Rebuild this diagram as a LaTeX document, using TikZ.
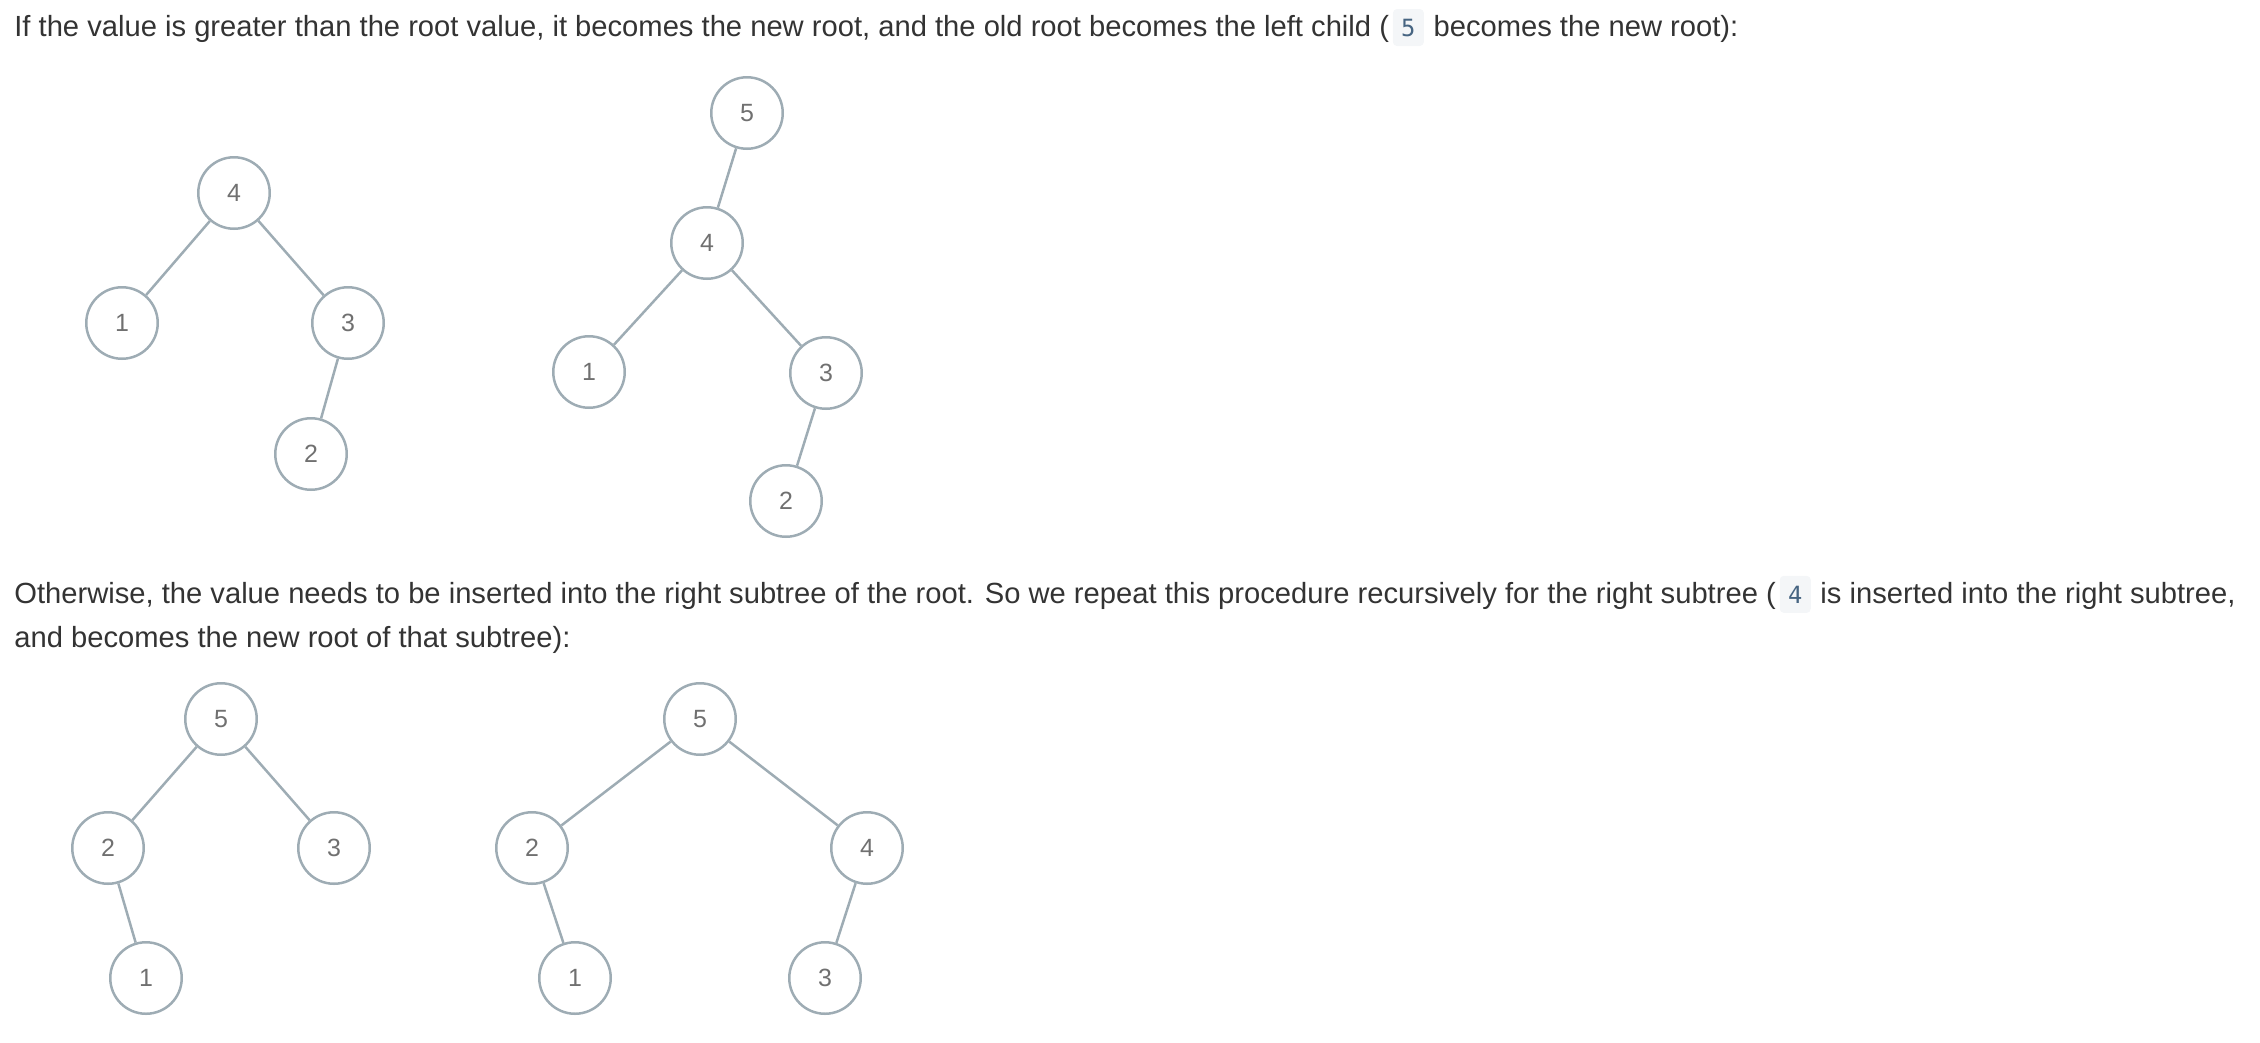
\documentclass[tikz,border=0pt]{standalone}
\usepackage{fontspec}
\setmainfont{Liberation Sans}
\newfontfamily\codefont{DejaVu Sans Mono}
\usetikzlibrary{positioning}
\definecolor{edgegray}{HTML}{9EACB4}
\definecolor{textgray}{HTML}{333333}
\definecolor{digitgray}{HTML}{707070}
\definecolor{codebg}{HTML}{F4F6F8}
\definecolor{codefg}{HTML}{476582}

\begin{document}
\begin{tikzpicture}[x=0.02cm, y=-0.02cm,
  bst/.style={draw=edgegray, circle, line width=0.05cm, minimum size=1.43cm, inner sep=0pt, text=digitgray, font=\fontsize{14.2}{17}\selectfont},
  link/.style={draw=edgegray, line width=0.05cm},
  para/.style={text=textgray, inner sep=0pt, font=\fontsize{16.6}{20}\selectfont},
  code/.style={fill=codebg, rounded corners=0.08cm, text=codefg, inner sep=0pt, minimum width=0.62cm, minimum height=0.74cm, font=\codefont\fontsize{13.5}{16}\selectfont}]
\useasboundingbox (0,0) rectangle (2260,1042);

\node[para, anchor=base west] (t1) at (14,36) {If the value is greater than the root value, it becomes the new root, and the old root becomes the left child (};
\node[code, base right=0.06cm of t1] (c1) {5};
\node[para, base right=0.18cm of c1] (t2) {becomes the new root):};

\node[bst] (a4) at (234,193) {4};
\node[bst] (a1) at (122,323) {1};
\node[bst] (a3) at (348,323) {3};
\node[bst] (a2) at (311,454) {2};
\draw[link] (a4) -- (a1);
\draw[link] (a4) -- (a3);
\draw[link] (a3) -- (a2);

\node[bst] (b5) at (747,113) {5};
\node[bst] (b4) at (707,243) {4};
\node[bst] (b1) at (589,372) {1};
\node[bst] (b3) at (826,373) {3};
\node[bst] (b2) at (786,501) {2};
\draw[link] (b5) -- (b4);
\draw[link] (b4) -- (b1);
\draw[link] (b4) -- (b3);
\draw[link] (b3) -- (b2);

\node[para, anchor=base west] (t3) at (14,603) {Otherwise, the value needs to be inserted into the right subtree of the root. So we repeat this procedure recursively for the right subtree (};
\node[code, base right=0.06cm of t3] (c2) {4};
\node[para, base right=0.18cm of c2] (t4) {is inserted into the right subtree,};
\node[para, anchor=base west] (t5) at (14,647) {and becomes the new root of that subtree):};

\node[bst] (c5) at (221,719) {5};
\node[bst] (c2) at (108,848) {2};
\node[bst] (c3) at (334,848) {3};
\node[bst] (c1) at (146,978) {1};
\draw[link] (c5) -- (c2);
\draw[link] (c5) -- (c3);
\draw[link] (c2) -- (c1);

\node[bst] (d5) at (700,719) {5};
\node[bst] (d2) at (532,848) {2};
\node[bst] (d4) at (867,848) {4};
\node[bst] (d1) at (575,978) {1};
\node[bst] (d3) at (825,978) {3};
\draw[link] (d5) -- (d2);
\draw[link] (d5) -- (d4);
\draw[link] (d2) -- (d1);
\draw[link] (d4) -- (d3);
\end{tikzpicture}
\end{document}
